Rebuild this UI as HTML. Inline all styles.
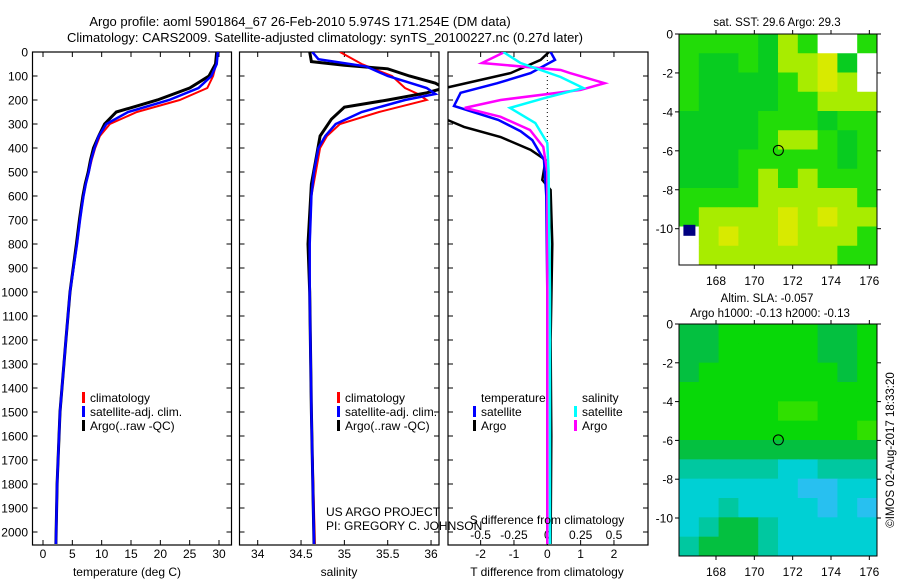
<!DOCTYPE html>
<html><head><meta charset="utf-8"><style>
html,body{margin:0;padding:0;background:#fff;}
svg{display:block;font-family:"Liberation Sans",sans-serif;}
text{fill:#000;}
</style></head><body>
<svg id="fig" width="900" height="580" viewBox="0 0 900 580" xmlns="http://www.w3.org/2000/svg">
<defs>
<clipPath id="c1"><rect x="32.5" y="52" width="199" height="493"/></clipPath>
<clipPath id="c2"><rect x="239.5" y="52" width="199.5" height="493"/></clipPath>
<clipPath id="c3"><rect x="448" y="52" width="200" height="493"/></clipPath>
</defs>
<text x="300" y="26" font-size="13" text-anchor="middle">Argo profile: aoml 5901864_67 26-Feb-2010 5.974S 171.254E (DM data)</text>
<text x="325" y="42" font-size="13" text-anchor="middle">Climatology: CARS2009. Satellite-adjusted climatology: synTS_20100227.nc (0.27d later)</text>
<g id="p1"></g>
<g id="p2"></g>
<g id="p3"></g>
<g id="m1"></g>
<g id="m2"></g>
<text x="127" y="576" font-size="12" text-anchor="middle">temperature (deg C)</text>
<text x="339" y="576" font-size="12" text-anchor="middle">salinity</text>
<text x="547" y="524" font-size="12" text-anchor="middle">S difference from climatology</text>
<text x="547" y="576" font-size="12" text-anchor="middle">T difference from climatology</text>
<text x="326" y="516" font-size="12">US ARGO PROJECT</text>
<text x="326" y="530" font-size="12">PI: GREGORY C. JOHNSON</text>
<text x="777" y="26" font-size="11.5" text-anchor="middle">sat. SST: 29.6 Argo: 29.3</text>
<text x="767" y="302" font-size="11.5" text-anchor="middle">Altim. SLA: -0.057</text>
<text x="770" y="317" font-size="11.5" text-anchor="middle">Argo h1000: -0.13 h2000: -0.13</text>
<text transform="translate(894,450) rotate(-90)" font-size="11.5" text-anchor="middle">©IMOS 02-Aug-2017 18:33:20</text>
</svg>
<script>
// ---------- data ----------
const depthTicks=[0,100,200,300,400,500,600,700,800,900,1000,1100,1200,1300,1400,1500,1600,1700,1800,1900,2000];
const tempTicks=[0,5,10,15,20,25,30];
const salTicks=[34,34.5,35,35.5,36];
const tdiffTicks=[-2,-1,0,1,2];
const sdiffTicks=[-0.5,-0.25,0,0.25,0.5];
const sdiffLabels=["-0.5","-0.25","0","0.25","0.5"];

const climTDepth=[0,50,100,150,200,250,300,350,400,450,500,550,600,650,700,800,1000,1200,1500,1800,2050];
const climT=[29.8,29.5,29.0,28.0,23.3,16.0,11.4,9.7,8.9,8.3,7.8,7.3,6.9,6.6,6.3,5.8,4.6,3.9,2.9,2.4,2.2];
const satT=[29.8,29.6,28.7,26.5,21.5,14.5,10.8,9.5,8.8,8.2,7.8,7.3,6.9,6.6,6.3,5.8,4.6,3.9,2.9,2.4,2.2];
const argoT=[29.6,29.4,28.3,25.0,19.5,12.5,10.5,9.5,8.6,8.1,7.7,7.2,6.8,6.5,6.2,5.7,4.6,3.9,2.9,2.4,2.2];

const climSDepth=[0,50,100,150,175,200,250,300,350,400,500,600,800,1000,1500,2050];
const climS=[34.95,35.2,35.55,35.7,35.85,35.95,35.4,34.95,34.8,34.72,34.67,34.62,34.6,34.6,34.62,34.66];
const satSDepth=[0,30,60,100,150,175,200,250,300,350,400,500,600,800,1000,1500,2050];
const satS=[34.63,34.7,35.25,35.5,35.95,36.05,35.7,35.2,34.9,34.78,34.7,34.65,34.62,34.6,34.6,34.62,34.65];
const argoSDepth=[0,40,55,70,100,130,150,170,200,230,280,350,450,550,800,1000,1500,2050];
const argoS=[34.6,34.62,35.0,35.5,35.75,36.05,36.15,35.95,35.5,35.0,34.85,34.72,34.67,34.62,34.58,34.6,34.62,34.65];

const dTsatDepth=[0,33,88,130,170,225,283,330,367,450,600,1000,2050];
const dTsat=[0.1,0.23,-0.5,-1.5,-2.6,-2.8,-1.47,-0.8,-0.45,-0.1,-0.03,0,0];
const dTargoDepth=[0,33,88,154,200,250,283,312,354,408,450,533,575,800,1200,1600,2050];
const dTargo=[0.05,-0.2,-1.1,-3.2,-3.5,-3.5,-3.0,-2.5,-1.4,-0.5,-0.05,-0.15,0.1,0.15,0.1,0.12,0.1];
const dSsatDepth=[0,46,104,150,192,233,296,379,500,1000,2050];
const dSsat=[-0.33,-0.2,0.1,0.27,-0.02,-0.28,-0.09,0.0,0.01,0.02,0.02];
const dSargoDepth=[0,46,75,88,130,158,200,233,270,325,396,500,1000,2050];
const dSargo=[-0.32,-0.49,0.1,0.17,0.43,0.25,-0.35,-0.62,-0.35,-0.13,-0.03,0,0,0];

const mapLonTicks=[168,170,172,174,176];
const mapLatTicks=[0,-2,-4,-6,-8,-10];
const floatLon=171.254, floatLat=-5.974;
const sstGrid=[
[1,1,1,1,0,2,1,9,9,1],
[1,0,0,1,0,2,2,3,0,9],
[1,0,0,0,0,1,2,3,2,9],
[1,0,0,0,0,1,1,2,2,2],
[0,0,0,0,1,1,1,0,1,1],
[0,0,0,0,1,2,2,1,0,1],
[0,0,0,1,1,1,1,1,0,1],
[0,0,0,1,2,1,2,1,1,1],
[1,1,1,1,2,2,2,2,2,1],
[1,2,2,2,2,3,2,3,2,2],
[9,2,3,2,2,3,2,2,2,1],
[9,2,2,2,2,2,2,2,1,1]];
const sstColors=["#08cc20","#22dc08","#a8ec00","#d8ea00"];
const slaGrid=[
[0,0,1,1,1,1,1,0,0,1],
[0,0,1,1,1,1,1,0,0,1],
[0,1,1,1,1,1,1,1,0,1],
[1,1,1,1,1,1,1,1,1,1],
[1,1,1,1,1,2,2,1,1,1],
[1,1,1,1,1,1,1,1,1,2],
[0,0,0,0,0,0,0,0,0,0],
[3,3,3,3,3,4,4,3,3,3],
[4,4,4,4,4,4,5,5,4,4],
[4,4,3,4,4,4,4,5,4,5],
[4,3,0,0,3,4,4,4,4,4],
[3,0,0,0,3,4,4,4,4,4]];
const slaColors=["#04c040","#08d808","#30e000","#00c8a0","#00d0d4","#28c0f0"];

// ---------- helpers ----------
const NS="http://www.w3.org/2000/svg";
function mk(parent,tag,attrs){const e=document.createElementNS(NS,tag);for(const k in attrs)e.setAttribute(k,attrs[k]);parent.appendChild(e);return e;}
const yD=d=>52+d*0.24;
const xT=t=>43+t*5.867;
const xS=s=>257.7+(s-34)*86.67;
const xTd=v=>547.3+v*33.33;
const xSd=v=>547.3+v*133.3;

function line(g,xs,ds,xf,color,w,clip,name){
  const pts=xs.map((v,i)=>xf(v).toFixed(1)+","+yD(ds[i]).toFixed(1)).join(" ");
  const p=mk(g,"polyline",{points:pts,fill:"none",stroke:color,"stroke-width":w,"clip-path":"url(#"+clip+")"});
  
  
}
function frame(g,x0,x1,name){
  const r=mk(g,"rect",{x:x0,y:52,width:x1-x0,height:493,fill:"none",stroke:"#000","stroke-width":1.2});
  
  
  depthTicks.forEach(d=>{const y=yD(d);mk(g,"line",{x1:x0,x2:x0+5,y1:y,y2:y,stroke:"#000"});mk(g,"line",{x1:x1-5,x2:x1,y1:y,y2:y,stroke:"#000"});});
}
function xticks(g,vals,labels,xf,ly,name,top){
  vals.forEach((v,i)=>{const x=xf(v);
    mk(g,"line",{x1:x,x2:x,y1:545,y2:540,stroke:"#000"});
    if(top)mk(g,"line",{x1:x,x2:x,y1:52,y2:57,stroke:"#000"});
    const t=mk(g,"text",{x:x,y:ly,"font-size":12,"text-anchor":"middle"});t.textContent=labels[i];
    
    
  });
}
function legendItem(g,x,y,color,label){
  mk(g,"rect",{x:x,y:y-10,width:3,height:11,fill:color});
  const t=mk(g,"text",{x:x+8,y:y,"font-size":12});t.textContent=label;
  
  
}

// ---------- panel 1 ----------
const p1=document.getElementById("p1");
frame(p1,32.5,231.5,"temperature-frame");
depthTicks.forEach(d=>{const t=mk(p1,"text",{x:28,y:yD(d)+4.5,"font-size":12,"text-anchor":"end"});t.textContent=d;
  
  });
xticks(p1,tempTicks,tempTicks.map(String),xT,558,"temperature-tick-label",true);
line(p1,climT,climTDepth,xT,"#ff0000",2,"c1","temp-climatology-line");
line(p1,argoT,climTDepth,xT,"#000",3,"c1","temp-argo-line");
line(p1,satT,climTDepth,xT,"#0000ff",2.5,"c1","temp-satellite-line");
legendItem(p1,82,402,"#ff0000","climatology");
legendItem(p1,82,416,"#0000ff","satellite-adj. clim.");
legendItem(p1,82,430,"#000","Argo(..raw -QC)");

// ---------- panel 2 ----------
const p2=document.getElementById("p2");
frame(p2,239.5,439,"salinity-frame");
xticks(p2,salTicks,salTicks.map(String),xS,558,"salinity-tick-label",true);
line(p2,climS,climSDepth,xS,"#ff0000",2,"c2","sal-climatology-line");
line(p2,argoS,argoSDepth,xS,"#000",3,"c2","sal-argo-line");
line(p2,satS,satSDepth,xS,"#0000ff",2.5,"c2","sal-satellite-line");
legendItem(p2,337,402,"#ff0000","climatology");
legendItem(p2,337,416,"#0000ff","satellite-adj. clim.");
legendItem(p2,337,430,"#000","Argo(..raw -QC)");

// ---------- panel 3 ----------
const p3=document.getElementById("p3");
frame(p3,448,648,"difference-frame");
xticks(p3,tdiffTicks,tdiffTicks.map(String),xTd,558,"t-diff-tick-label",true);
sdiffTicks.forEach((v,i)=>{const t=mk(p3,"text",{x:xSd(v),y:539,"font-size":12,"text-anchor":"middle"});t.textContent=sdiffLabels[i];
  
  });
mk(p3,"line",{x1:xTd(0),x2:xTd(0),y1:52,y2:545,stroke:"#000","stroke-dasharray":"1,3"});
line(p3,dTargo,dTargoDepth,xTd,"#000",2.5,"c3","tdiff-argo-line");
line(p3,dTsat,dTsatDepth,xTd,"#0000ff",2.5,"c3","tdiff-satellite-line");
line(p3,dSargo,dSargoDepth,xSd,"#ff00ff",2.5,"c3","sdiff-argo-line");
line(p3,dSsat,dSsatDepth,xSd,"#00ffff",2.5,"c3","sdiff-satellite-line");
[["temperature",481,402],["salinity",582,402]].forEach(a=>{const t=mk(p3,"text",{x:a[1],y:a[2],"font-size":12});t.textContent=a[0];
  
  });
legendItem(p3,473,416,"#0000ff","satellite");
legendItem(p3,473,430,"#000","Argo");
legendItem(p3,574,416,"#00ffff","satellite");
legendItem(p3,574,430,"#ff00ff","Argo");

// ---------- maps ----------
function map(g,top,bottom,lat0y,lat10y,grid,colors,name){
  const L=679,R=877,lonA=166.07,lonB=176.4;
  const xL=lon=>L+(lon-lonA)*(R-L)/(lonB-lonA);
  const yL=lat=>lat0y+(-lat)*(lat10y-lat0y)/10;
  const nr=grid.length,nc=grid[0].length;
  const cw=(R-L)/nc,ch=(bottom-top)/nr;
  grid.forEach((row,r)=>row.forEach((v,c)=>{
    const cell=mk(g,"rect",{x:L+c*cw,y:top+r*ch,width:cw+0.5,height:ch+0.5,fill:v===9?"#fff":colors[v]});
    
    
  }));
  const fr=mk(g,"rect",{x:L,y:top,width:R-L,height:bottom-top,fill:"none",stroke:"#000"});
  
  
  mapLonTicks.forEach(lon=>{const x=xL(lon);
    mk(g,"line",{x1:x,x2:x,y1:top-4,y2:top,stroke:"#000"});mk(g,"line",{x1:x,x2:x,y1:bottom,y2:bottom+4,stroke:"#000"});
    const t=mk(g,"text",{x:x,y:bottom+20,"font-size":12,"text-anchor":"middle"});t.textContent=lon;
    
    });
  mapLatTicks.forEach(lat=>{const y=yL(lat);
    mk(g,"line",{x1:L-4,x2:L,y1:y,y2:y,stroke:"#000"});mk(g,"line",{x1:R,x2:R+4,y1:y,y2:y,stroke:"#000"});
    const t=mk(g,"text",{x:L-6,y:y+4.5,"font-size":12,"text-anchor":"end"});t.textContent=lat;
    
    });
  const c=mk(g,"circle",{cx:xL(floatLon),cy:yL(floatLat),r:5,fill:"none",stroke:"#000"});
  
  
  return {xL,yL};
}
const s1=map(document.getElementById("m1"),34,265,34,228.7,sstGrid,sstColors,"sst");
const m1=document.getElementById("m1");
const nb=mk(m1,"rect",{x:s1.xL(166.3),y:s1.yL(-9.8),width:12,height:11,fill:"#000080"});


map(document.getElementById("m2"),324,556,324,518,slaGrid,slaColors,"sla");
</script>
</body></html>
